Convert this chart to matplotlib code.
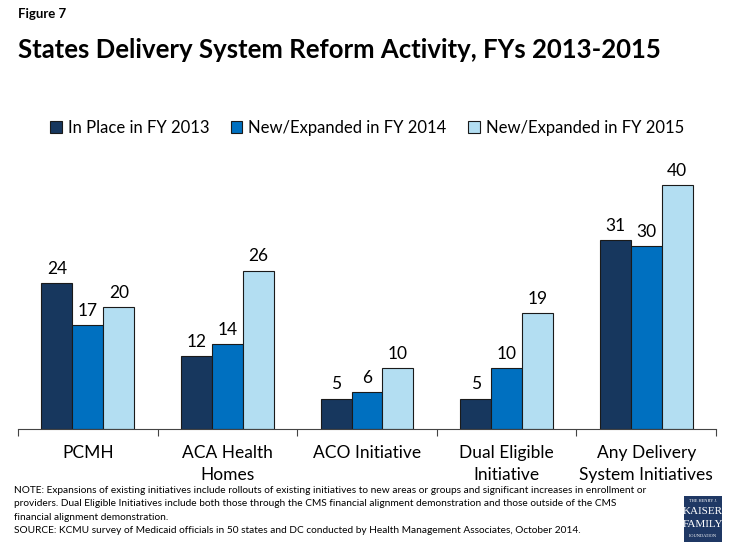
import matplotlib.pyplot as plt
import numpy as np

# data
categories = ["PCMH", "ACA Health\nHomes", "ACO Initiative", "Dual Eligible\nInitiative",
              "Any Delivery\nSystem Initiatives"]
series_names = ["In Place in FY 2013", "New/Expanded in FY 2014", "New/Expanded in FY 2015"]
fy2013 = [24, 12, 5, 5, 31]
fy2014 = [17, 14, 6, 10, 30]
fy2015 = [20, 26, 10, 19, 40]

colors = ["#17375E", "#0070C0", "#B3DEF2"]

plt.rcParams['font.family'] = ['Lato', 'DejaVu Sans']

fig = plt.figure(figsize=(7.35, 5.51), dpi=100)
ax = fig.add_axes([18 / 735, 1 - 429 / 551, (716 - 18) / 735, 256 / 551])

x = np.arange(len(categories))
w = 0.222
for i, (vals, col, name) in enumerate(zip([fy2013, fy2014, fy2015], colors, series_names)):
    bars = ax.bar(x + (i - 1) * w, vals, w, color=col, edgecolor="#1a1a1a",
                  linewidth=0.8, label=name)
    for b, v in zip(bars, vals):
        ax.text(b.get_x() + b.get_width() / 2, v + 1.0, str(v), ha="center",
                va="bottom", fontsize=12.5, color="#000000")

ax.set_xlim(-0.5, len(categories) - 0.5)
ax.set_ylim(0, 42)
for s in ["top", "right", "left"]:
    ax.spines[s].set_visible(False)
ax.spines["bottom"].set_color("#444444")
ax.spines["bottom"].set_linewidth(0.8)
ax.set_yticks([])
ax.set_xticks(np.arange(len(categories) + 1) - 0.5, minor=False)
ax.set_xticklabels([])
ax.tick_params(axis="x", length=5, color="#444444", width=0.8)
for i, c in enumerate(categories):
    ax.text(i, -2.6, c, ha="center", va="top", fontsize=12.5, linespacing=1.45,
            transform=ax.transData)

leg = ax.legend(loc="center", bbox_to_anchor=(0.5, 1 + 45 / 256), ncol=3, frameon=False,
                fontsize=12, handlelength=0.7, handleheight=0.7, handletextpad=0.35,
                columnspacing=1.3)

fig.text(18 / 735, 1 - 14 / 551, "Figure 7", fontsize=9.5, fontweight="bold", va="center")
fig.text(18 / 735, 1 - 50 / 551, "States Delivery System Reform Activity, FYs 2013-2015",
         fontsize=18.5, fontweight="bold", va="center")

notes = ("NOTE: Expansions of existing initiatives include rollouts of existing initiatives to new areas or groups and significant increases in enrollment or\n"
         "providers. Dual Eligible Initiatives include both those through the CMS financial alignment demonstration and those outside of the CMS\n"
         "financial alignment demonstration.\n"
         "SOURCE: KCMU survey of Medicaid officials in 50 states and DC conducted by Health Management Associates, October 2014.")
fig.text(14 / 735, 1 - 486 / 551, notes, fontsize=7.3, va="top", linespacing=1.62)

# logo
logo = fig.add_axes([684 / 735, 1 - 542 / 551, 38 / 735, 46 / 551])
logo.set_facecolor("#1F3864")
logo.set_xticks([])
logo.set_yticks([])
for s in logo.spines.values():
    s.set_visible(False)
logo.text(0.5, 0.9, "THE HENRY J.", color="white", fontsize=3.2, ha="center", va="center",
          family="Liberation Serif")
logo.text(0.5, 0.66, "KAISER", color="white", fontsize=8, ha="center", va="center",
          family="Liberation Serif")
logo.text(0.5, 0.38, "FAMILY", color="white", fontsize=8, ha="center", va="center",
          family="Liberation Serif")
logo.text(0.5, 0.12, "FOUNDATION", color="white", fontsize=3.2, ha="center", va="center",
          family="Liberation Serif")

fig.savefig("out.png", dpi=100)
